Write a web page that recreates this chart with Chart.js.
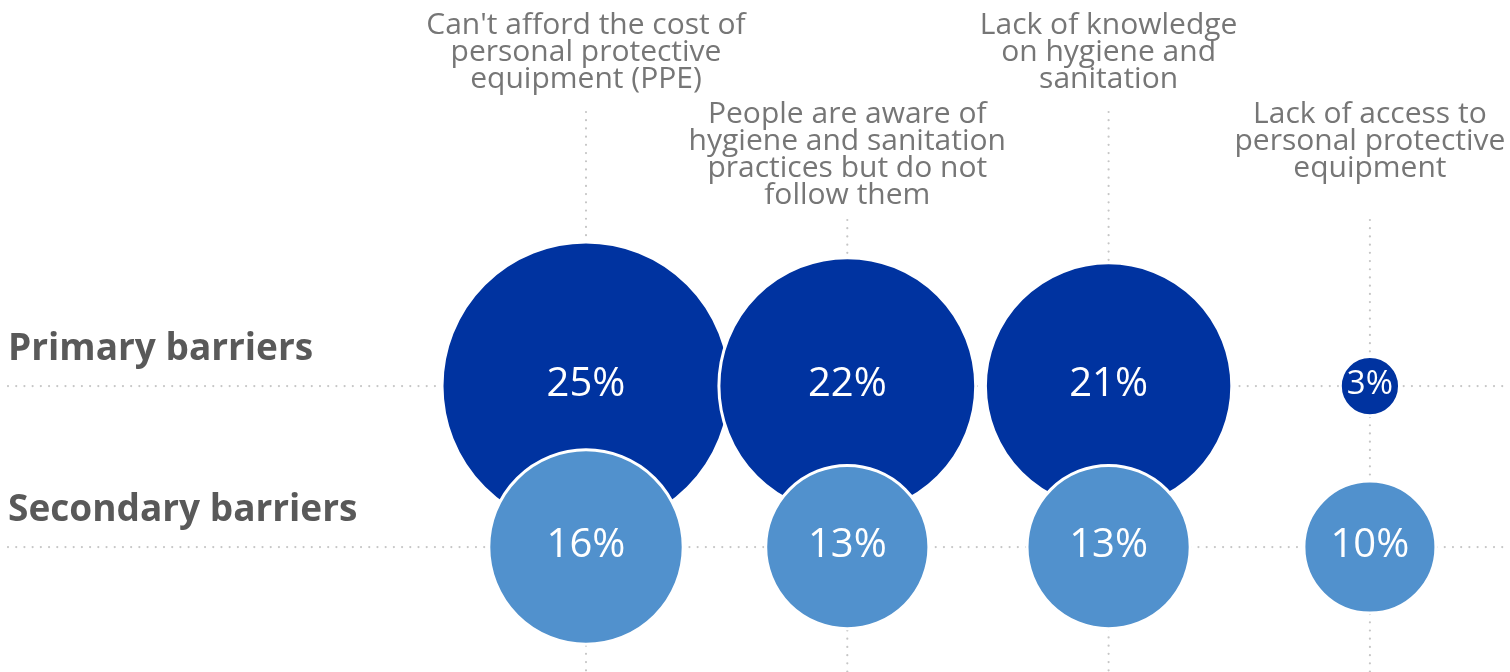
<!DOCTYPE html>
<html lang="en">
<head>
    <meta charset="UTF-8">
    <title>Barriers to hygiene and sanitation</title>
    <script src="https://cdn.jsdelivr.net/npm/chart.js"></script>
    <style>
        body { margin: 0; background: #fff; }
        #wrap { width: 1510px; height: 672px; position: relative; }
    </style>
</head>
<body>
<div id="wrap"><canvas id="bubbleChart"></canvas></div>

<script>
    // Data
    const categories = [
        ["Can't afford the cost of", "personal protective", "equipment (PPE)"],
        ["People are aware of", "hygiene and sanitation", "practices but do not", "follow them"],
        ["Lack of knowledge", "on hygiene and", "sanitation"],
        ["Lack of access to", "personal protective", "equipment"]
    ];
    const rowLabels = ["Primary barriers", "Secondary barriers"];
    const primaryValues = [25, 22, 21, 3];
    const secondaryValues = [16, 13, 13, 10];

    const darkBlue = '#0033a0';
    const lightBlue = '#5191cd';
    const dotColor = '#c6c6c6';
    const labelFont = '"Open Sans", "Noto Sans", sans-serif';

    // bubble radius grows with the share
    function radiusFor(v) { return 14 + 5.2 * v; }

    function toPoints(values, row) {
        return values.map((v, i) => ({ x: i, y: row, r: radiusFor(v), v: v }));
    }

    function dotted(ctx, x1, y1, x2, y2) {
        ctx.save();
        ctx.strokeStyle = dotColor;
        ctx.lineWidth = 2.2;
        ctx.lineCap = 'round';
        ctx.setLineDash([0.01, 8.2]);
        ctx.beginPath();
        ctx.moveTo(x1, y1);
        ctx.lineTo(x2, y2);
        ctx.stroke();
        ctx.restore();
    }

    // grid lines and labels drawn with the chart's own scales
    const decor = {
        id: 'decor',
        beforeDatasetsDraw(chart) {
            const { ctx, chartArea, scales: { x, y } } = chart;
            rowLabels.forEach((lab, r) => {
                const py = y.getPixelForValue(r);
                dotted(ctx, chartArea.left, py, chartArea.right, py);
                ctx.save();
                ctx.fillStyle = '#595959';
                ctx.font = 'bold 37px ' + labelFont;
                ctx.textAlign = 'left';
                ctx.textBaseline = 'middle';
                ctx.fillText(lab, chartArea.left, py - 37);
                ctx.restore();
            });
            categories.forEach((lines, i) => {
                const px = x.getPixelForValue(i);
                const top = i % 2 === 0 ? 25 : 114;
                const lineStart = i % 2 === 0 ? 112 : 220;
                dotted(ctx, px, lineStart, px, chartArea.bottom);
                ctx.save();
                ctx.fillStyle = '#767676';
                ctx.font = '30px ' + labelFont;
                ctx.textAlign = 'center';
                ctx.textBaseline = 'middle';
                lines.forEach((t, k) => ctx.fillText(t, px, top + k * 27));
                ctx.restore();
            });
        },
        afterDatasetsDraw(chart) {
            const { ctx } = chart;
            ctx.save();
            ctx.fillStyle = '#ffffff';
            ctx.textAlign = 'center';
            ctx.textBaseline = 'middle';
            chart.data.datasets.forEach((ds, di) => {
                chart.getDatasetMeta(di).data.forEach((el, i) => {
                    const v = ds.data[i].v;
                    ctx.font = (v < 5 ? 33 : 40) + 'px ' + labelFont;
                    ctx.fillText(v + '%', el.x, el.y - 1);
                });
            });
            ctx.restore();
        }
    };

    new Chart(document.getElementById('bubbleChart'), {
        type: 'bubble',
        data: {
            datasets: [{
                label: rowLabels[0],
                data: toPoints(primaryValues, 0),
                backgroundColor: darkBlue,
                borderColor: '#ffffff',
                borderWidth: 3,
                order: 2,
                clip: false
            }, {
                label: rowLabels[1],
                data: toPoints(secondaryValues, 1),
                backgroundColor: lightBlue,
                borderColor: '#ffffff',
                borderWidth: 3,
                order: 1,
                clip: false
            }]
        },
        options: {
            responsive: true,
            maintainAspectRatio: false,
            animation: false,
            layout: { autoPadding: false, padding: { left: 8, right: 5, top: 0, bottom: 0 } },
            plugins: { legend: { display: false }, tooltip: { enabled: false } },
            elements: { point: { hoverRadius: 0 } },
            scales: {
                x: { type: 'linear', min: -2.212, max: 3.517, display: false },
                y: { type: 'linear', min: -2.398, max: 1.776, reverse: true, display: false }
            }
        },
        plugins: [decor]
    });
</script>
</body>
</html>
